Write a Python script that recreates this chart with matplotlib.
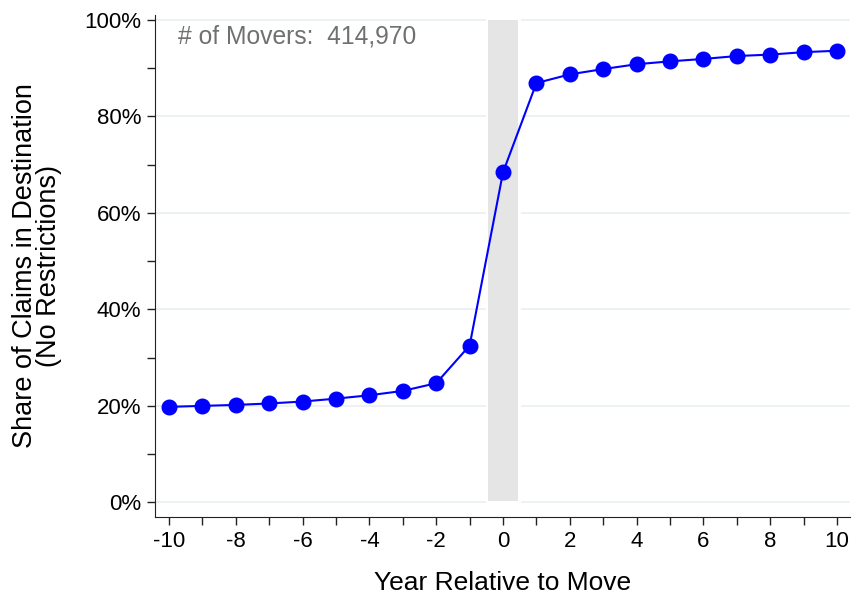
import numpy as np
import matplotlib.pyplot as plt
from matplotlib.ticker import MultipleLocator, FuncFormatter

plt.rcParams['font.family'] = ['Liberation Sans', 'DejaVu Sans']
plt.rcParams['axes.unicode_minus'] = False

# data
years = list(range(-10, 11))
share = [19.8, 20.0, 20.2, 20.5, 20.9, 21.5, 22.2, 23.1, 24.7, 32.5,
         68.4, 86.9, 88.7, 89.8, 90.8, 91.4, 91.9, 92.5, 92.8, 93.3, 93.6]
n_movers = "414,970"

fig = plt.figure(figsize=(8.52, 6.01), dpi=100)
ax = fig.add_axes([0.182, 0.140, 0.816, 0.835])

# gridlines, broken around the shaded move year
for y in range(0, 101, 20):
    ax.axhline(y, color='#ebf0f1', lw=1.3, zorder=0)
ax.axvspan(-0.5, 0.5, color='white', zorder=0.5)
ax.axvspan(-0.45, 0.45, ymin=0.032, ymax=0.99, color='#e5e5e5', lw=0, zorder=1)

ax.plot(years, share, color='blue', lw=1.5, marker='o', ms=10.5, zorder=3)

ax.set_xlim(-10.42, 10.4)
ax.set_ylim(-3, 101)
ax.xaxis.set_major_locator(MultipleLocator(2))
ax.xaxis.set_minor_locator(MultipleLocator(1))
ax.yaxis.set_major_locator(MultipleLocator(20))
ax.yaxis.set_minor_locator(MultipleLocator(10))
ax.yaxis.set_major_formatter(FuncFormatter(lambda v, p: '{:.0f}%'.format(v)))
ax.tick_params(which='both', direction='out', length=6, width=1, labelsize=16,
               color='#222222', pad=4)

for s in ['top', 'right']:
    ax.spines[s].set_visible(False)
for s in ['left', 'bottom']:
    ax.spines[s].set_color('#222222')

ax.set_xlabel('Year Relative to Move', fontsize=19, labelpad=14)
ax.set_ylabel('Share of Claims in Destination\n(No Restrictions)', fontsize=19.5,
              labelpad=16, linespacing=0.9)

ax.text(-9.72, 96.5, '# of Movers:  ' + n_movers, color='#707070', fontsize=17.7,
        va='center', ha='left')

plt.savefig('out.png', dpi=100)
